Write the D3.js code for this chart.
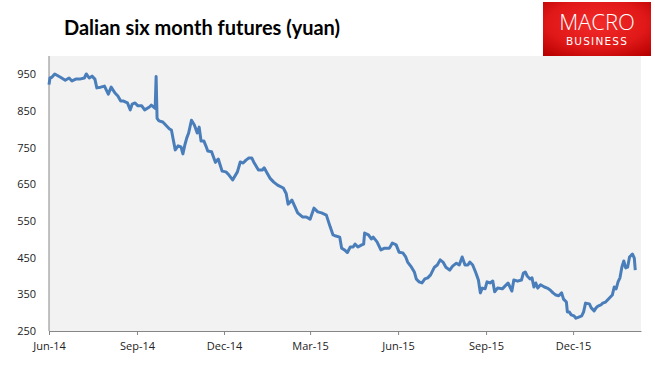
<!DOCTYPE html>
<html>
<head>
<meta charset="utf-8">
<script src="https://cdn.jsdelivr.net/npm/d3@7"></script>
<style>
  body { margin: 0; background: #fff; }
  svg { display: block; }
</style>
</head>
<body>
<div id="chart"></div>
<script>
// chart values
const dates = [
  "2014-06-01","2014-06-02","2014-06-04","2014-06-07","2014-06-13","2014-06-18","2014-06-22","2014-06-25","2014-06-29","2014-07-03",
  "2014-07-08","2014-07-10","2014-07-13","2014-07-16","2014-07-19","2014-07-21","2014-07-25","2014-07-29","2014-07-31","2014-08-02",
  "2014-08-05","2014-08-09","2014-08-12","2014-08-15","2014-08-18","2014-08-22","2014-08-25","2014-08-27","2014-08-30","2014-09-02",
  "2014-09-06","2014-09-09","2014-09-14","2014-09-16","2014-09-20","2014-09-21","2014-09-22","2014-09-24","2014-09-28","2014-10-01",
  "2014-10-05","2014-10-07","2014-10-09","2014-10-11","2014-10-14","2014-10-17","2014-10-19","2014-10-21","2014-10-23","2014-10-25",
  "2014-10-28","2014-10-31","2014-11-03","2014-11-05","2014-11-07","2014-11-10","2014-11-12","2014-11-14","2014-11-18","2014-11-22",
  "2014-11-25","2014-11-29","2014-12-03","2014-12-06","2014-12-10","2014-12-15","2014-12-18","2014-12-21","2014-12-24","2014-12-27",
  "2014-12-30","2015-01-01","2015-01-06","2015-01-10","2015-01-12","2015-01-15","2015-01-18","2015-01-22","2015-01-26","2015-02-01",
  "2015-02-04","2015-02-06","2015-02-10","2015-02-13","2015-02-16","2015-02-21","2015-02-25","2015-03-01","2015-03-05","2015-03-09",
  "2015-03-13","2015-03-18","2015-03-22","2015-03-25","2015-03-28","2015-04-01","2015-04-03","2015-04-06","2015-04-09","2015-04-12",
  "2015-04-15","2015-04-17","2015-04-20","2015-04-24","2015-04-26","2015-04-27","2015-05-01","2015-05-04","2015-05-06","2015-05-10",
  "2015-05-14","2015-05-18","2015-05-23","2015-05-26","2015-05-30","2015-06-02","2015-06-06","2015-06-09","2015-06-11","2015-06-15",
  "2015-06-18","2015-06-20","2015-06-23","2015-06-26","2015-06-29","2015-07-02","2015-07-05","2015-07-09","2015-07-12","2015-07-15",
  "2015-07-18","2015-07-21","2015-07-25","2015-07-28","2015-08-01","2015-08-04","2015-08-07","2015-08-10","2015-08-13","2015-08-15",
  "2015-08-18","2015-08-21","2015-08-24","2015-08-26","2015-08-28","2015-08-31","2015-09-02","2015-09-05","2015-09-08","2015-09-10",
  "2015-09-13","2015-09-18","2015-09-21","2015-09-24","2015-09-26","2015-09-28","2015-09-30","2015-10-04","2015-10-08","2015-10-10",
  "2015-10-12","2015-10-14","2015-10-17","2015-10-19","2015-10-21","2015-10-23","2015-10-25","2015-10-28","2015-11-01","2015-11-04",
  "2015-11-07","2015-11-10","2015-11-13","2015-11-16","2015-11-19","2015-11-21","2015-11-24","2015-11-25","2015-11-27","2015-11-29",
  "2015-12-02","2015-12-04","2015-12-07","2015-12-10","2015-12-12","2015-12-14","2015-12-18","2015-12-20","2015-12-23","2015-12-25",
  "2015-12-27","2015-12-30","2016-01-01","2016-01-04","2016-01-08","2016-01-11","2016-01-13","2016-01-15","2016-01-17","2016-01-19",
  "2016-01-21","2016-01-23","2016-01-25","2016-01-27","2016-01-29","2016-02-01","2016-02-03","2016-02-04"
];
const prices = [
  922,940,942,951,942,934,940,932,937,937,
  940,951,940,945,937,913,915,918,907,896,
  915,899,891,877,877,872,853,869,872,864,
  864,853,861,866,857,944,830,823,820,812,
  801,798,771,744,755,752,733,757,776,790,
  825,812,790,806,768,768,755,741,739,710,
  719,686,684,676,662,684,711,708,716,722,
  722,711,689,689,695,681,667,656,648,640,
  625,596,607,590,572,561,561,555,585,575,
  572,566,534,512,509,506,476,471,464,479,
  479,487,479,485,487,517,512,501,506,493,
  471,476,476,490,485,465,463,452,438,424,
  411,392,384,381,392,395,403,424,430,444,
  438,424,416,427,435,430,452,430,430,438,
  430,411,389,354,367,365,384,381,386,357,
  367,365,373,381,370,359,389,386,389,408,
  411,400,392,395,370,381,367,376,370,367,
  362,354,348,346,354,337,329,302,302,294,
  291,285,288,291,302,326,324,313,305,313,
  318,321,326,329,340,348,370,365,384,395,
  424,441,422,424,452,460,449,416
];
const yTicks = [250, 350, 450, 550, 650, 750, 850, 950];
const xTicks = ["2014-06-01","2014-09-01","2014-12-01","2015-03-01","2015-06-01","2015-09-01","2015-12-01"];
const xDomain = ["2014-06-01", "2016-02-10"];
const yDomain = [250, 1000];

const width = 655, height = 367;
const margin = { top: 56, right: 14, bottom: 36, left: 49 };
const parse = d3.timeParse("%Y-%m-%d");
const series = dates.map((d, i) => ({ date: parse(d), value: prices[i] }));

const svg = d3.select("#chart")
  .append("svg")
    .attr("width", width)
    .attr("height", height);

const x = d3.scaleTime()
  .domain(xDomain.map(parse))
  .range([margin.left, width - margin.right]);

const y = d3.scaleLinear()
  .domain(yDomain)
  .range([height - margin.bottom, margin.top]);

// plot area background
svg.append("rect")
  .attr("x", margin.left)
  .attr("y", margin.top)
  .attr("width", width - margin.right - margin.left)
  .attr("height", height - margin.bottom - margin.top)
  .attr("fill", "#f2f2f2");

// title
svg.append("text")
  .attr("x", 64)
  .attr("y", 35)
  .attr("font-family", "Lato, 'Open Sans', sans-serif")
  .attr("font-weight", "bold")
  .attr("font-size", 20)
  .attr("fill", "#000")
  .text("Dalian six month futures (yuan)");

// logo
const defs = svg.append("defs");
const grad = defs.append("radialGradient")
  .attr("id", "logoGrad")
  .attr("cx", "50%").attr("cy", "40%").attr("r", "75%");
grad.append("stop").attr("offset", "0%").attr("stop-color", "#f42a2a");
grad.append("stop").attr("offset", "60%").attr("stop-color", "#e01818");
grad.append("stop").attr("offset", "100%").attr("stop-color", "#b80000");

svg.append("rect")
  .attr("x", 543)
  .attr("y", 2)
  .attr("width", 108)
  .attr("height", 54)
  .attr("fill", "url(#logoGrad)");

svg.append("text")
  .attr("x", 597)
  .attr("y", 30)
  .attr("text-anchor", "middle")
  .attr("font-family", "'Open Sans', sans-serif")
  .attr("font-weight", 300)
  .attr("font-size", 22)
  .attr("fill", "#fff")
  .text("MACRO");

svg.append("text")
  .attr("x", 597)
  .attr("y", 45)
  .attr("text-anchor", "middle")
  .attr("font-family", "'DejaVu Sans', sans-serif")
  .attr("font-size", 10.5)
  .attr("letter-spacing", 1.2)
  .attr("fill", "#fff")
  .text("BUSINESS");

// axes
const xAxis = d3.axisBottom(x)
  .tickValues(xTicks.map(parse))
  .tickFormat(d3.timeFormat("%b-%y"))
  .tickSize(4)
  .tickSizeOuter(0);

const yAxis = d3.axisLeft(y)
  .tickValues(yTicks)
  .tickSize(0)
  .tickPadding(13);

const gx = svg.append("g")
  .attr("transform", `translate(0,${height - margin.bottom})`)
  .call(xAxis);

const gy = svg.append("g")
  .attr("transform", `translate(${margin.left},0)`)
  .call(yAxis);

[gx, gy].forEach(g => {
  g.select(".domain").attr("stroke", "#868686");
  g.selectAll(".tick line").attr("stroke", "#868686");
  g.selectAll("text")
    .attr("font-family", "'Open Sans', sans-serif")
    .attr("font-size", 11)
    .attr("fill", "#222");
});
gx.selectAll("text").attr("dy", "1.1em");
gy.select(".domain").attr("d", `M0,${margin.top}V${height - margin.bottom}`);

// the series
const line = d3.line()
  .x(d => x(d.date))
  .y(d => y(d.value));

svg.append("path")
  .datum(series)
  .attr("fill", "none")
  .attr("stroke", "#4a7ebb")
  .attr("stroke-width", 3)
  .attr("stroke-linejoin", "round")
  .attr("d", line);
</script>
</body>
</html>
